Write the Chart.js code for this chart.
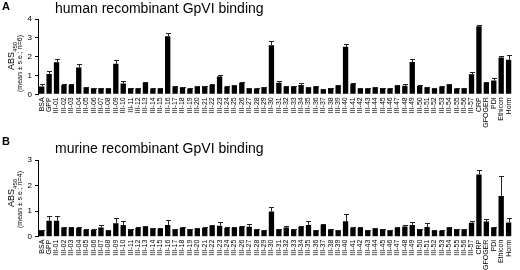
<!DOCTYPE html>
<html><head><meta charset="utf-8">
<script src="https://cdn.jsdelivr.net/npm/chart.js@4"></script>
<style>
html,body{margin:0;padding:0;background:#fff;}
body{width:520px;height:270px;position:relative;overflow:hidden;font-family:"Liberation Sans",Arial,sans-serif;}
.cv{position:absolute;left:0;width:520px;height:135px;}
.lbl{position:absolute;color:#000;white-space:nowrap;}
.ttl{font-size:14px;}
.let{font-size:11px;font-weight:bold;}
.ylab{position:absolute;transform:rotate(-90deg);transform-origin:center center;text-align:center;white-space:nowrap;color:#000;}
</style></head>
<body>
<div class="cv" style="top:0"><canvas id="cA" width="520" height="135"></canvas></div>
<div class="cv" style="top:135px"><canvas id="cB" width="520" height="135"></canvas></div>
<div class="lbl let" style="left:2px;top:0px;">A</div>
<div class="lbl ttl" style="left:55px;top:0px;">human recombinant GpVI binding</div>
<div class="lbl let" style="left:2px;top:135px;">B</div>
<div class="lbl ttl" style="left:55px;top:140px;">murine recombinant GpVI binding</div>
<div class="ylab" style="left:-28px;top:50px;width:80px;font-size:9px;">ABS<sub style="font-size:6px">450</sub></div>
<div class="ylab" style="left:-21px;top:60px;width:80px;font-size:7px;">(mean ± s.e.; n=6)</div>
<div class="ylab" style="left:-28px;top:187px;width:80px;font-size:9px;">ABS<sub style="font-size:6px">450</sub></div>
<div class="ylab" style="left:-21px;top:196px;width:80px;font-size:7px;">(mean ± s.e.; n=4)</div>
<script>
const categories = ["BSA","GPP","III-01","III-02","III-03","III-04","III-05","III-06","III-07","III-08","III-09","III-10","III-11","III-12","III-13","III-14","III-15","III-16","III-17","III-18","III-19","III-20","III-21","III-22","III-23","III-24","III-25","III-26","III-27","III-28","III-29","III-30","III-31","III-32","III-33","III-34","III-35","III-36","III-37","III-38","III-39","III-40","III-41","III-42","III-43","III-44","III-45","III-46","III-47","III-48","III-49","III-50","III-51","III-52","III-53","III-54","III-55","III-56","III-57","CRP","GFOGER","PDI","Ethicon","Horm"];
const humanMean = [0.42,1.08,1.7,0.5,0.5,1.42,0.37,0.32,0.33,0.33,1.62,0.57,0.32,0.32,0.61,0.31,0.31,3.08,0.41,0.37,0.31,0.43,0.44,0.5,0.94,0.41,0.48,0.62,0.34,0.31,0.39,2.6,0.62,0.43,0.43,0.5,0.37,0.43,0.27,0.34,0.48,2.52,0.55,0.31,0.32,0.38,0.33,0.31,0.48,0.45,1.71,0.45,0.38,0.31,0.41,0.53,0.31,0.34,1.07,3.62,0.6,0.73,1.95,1.83];
const humanErr = [0.12,0.18,0.2,0.03,0.03,0.18,0.02,0.02,0.02,0.02,0.22,0.12,0.02,0.02,0.05,0.02,0.02,0.2,0.02,0.02,0.02,0.02,0.02,0.03,0.1,0.02,0.03,0.05,0.02,0.02,0.02,0.22,0.1,0.02,0.02,0.08,0.02,0.03,0.02,0.02,0.02,0.15,0.05,0.02,0.02,0.02,0.02,0.02,0.03,0.08,0.18,0.02,0.02,0.02,0.03,0.03,0.02,0.02,0.12,0.06,0.04,0.16,0.1,0.28];
const murineMean = [0.26,0.62,0.62,0.36,0.36,0.35,0.27,0.27,0.36,0.26,0.53,0.46,0.3,0.35,0.39,0.33,0.31,0.46,0.3,0.36,0.3,0.33,0.34,0.43,0.43,0.34,0.36,0.4,0.39,0.29,0.26,0.99,0.3,0.36,0.29,0.39,0.46,0.26,0.47,0.29,0.26,0.6,0.35,0.34,0.26,0.33,0.3,0.26,0.34,0.4,0.46,0.3,0.38,0.25,0.23,0.36,0.3,0.3,0.55,2.43,0.59,0.36,1.59,0.56];
const murineErr = [0.02,0.2,0.2,0.02,0.02,0.02,0.02,0.02,0.11,0.02,0.21,0.14,0.02,0.02,0.02,0.02,0.03,0.19,0.02,0.02,0.02,0.02,0.02,0.02,0.13,0.02,0.02,0.02,0.11,0.02,0.02,0.18,0.02,0.06,0.02,0.02,0.17,0.02,0.04,0.02,0.02,0.27,0.02,0.03,0.02,0.02,0.02,0.02,0.02,0.06,0.1,0.02,0.14,0.02,0.02,0.02,0.02,0.02,0.06,0.16,0.09,0.02,0.79,0.16];
const humanTicks = [0,1,2,3,4];
const murineTicks = [0,1,2,3];

const FONT = "'Liberation Sans', Arial, sans-serif";

const errorBars = {
  id: 'errorBars',
  afterDatasetsDraw(chart, args, opts) {
    const ctx = chart.ctx;
    const meta = chart.getDatasetMeta(0);
    const ys = chart.scales.y;
    const errs = opts.errors;
    const vals = chart.data.datasets[0].data;
    ctx.save();
    ctx.strokeStyle = '#222';
    ctx.lineWidth = 1;
    meta.data.forEach((bar, i) => {
      const x = Math.round(bar.x) + 0.5;
      const y0 = ys.getPixelForValue(vals[i]);
      const y1 = Math.round(ys.getPixelForValue(vals[i] + errs[i])) + 0.5;
      ctx.beginPath();
      ctx.moveTo(x, y0);
      ctx.lineTo(x, y1);
      ctx.moveTo(x - 2.5, y1);
      ctx.lineTo(x + 2.5, y1);
      ctx.stroke();
    });
    ctx.restore();
  }
};

function makeChart(id, values, errs, ticks, padTop, xHeight) {
  const maxV = ticks[ticks.length - 1];
  return new Chart(document.getElementById(id), {
    type: 'bar',
    data: { labels: categories, datasets: [{ data: values, backgroundColor: '#000', borderWidth: 0, barPercentage: 0.72, categoryPercentage: 1.0 }] },
    plugins: [errorBars],
    options: {
      responsive: false,
      animation: false,
      devicePixelRatio: 1,
      layout: { padding: { top: padTop, right: 1, left: 0, bottom: 0 } },
      plugins: { legend: { display: false }, tooltip: { enabled: false }, title: { display: false }, errorBars: { errors: errs } },
      scales: {
        x: {
          grid: { display: false, drawTicks: false },
          border: { display: false },
          ticks: { autoSkip: false, maxRotation: 90, minRotation: 90, color: '#000', font: { family: FONT, size: 7 }, padding: 3 },
          afterFit(s) { s.height = xHeight; }
        },
        y: {
          min: 0, max: maxV,
          afterBuildTicks(s) { s.ticks = ticks.map(v => ({ value: v })); },
          grid: { display: true, drawOnChartArea: false, drawTicks: true, tickLength: 3, color: '#000' },
          border: { display: true, color: '#000', width: 1 },
          ticks: { color: '#000', font: { family: FONT, size: 8 }, padding: 3 },
          afterFit(s) { s.width = 38; }
        }
      }
    }
  });
}

makeChart('cA', humanMean, humanErr, humanTicks, 19, 40.7);
makeChart('cB', murineMean, murineErr, murineTicks, 25, 33.3);
</script>
</body></html>
